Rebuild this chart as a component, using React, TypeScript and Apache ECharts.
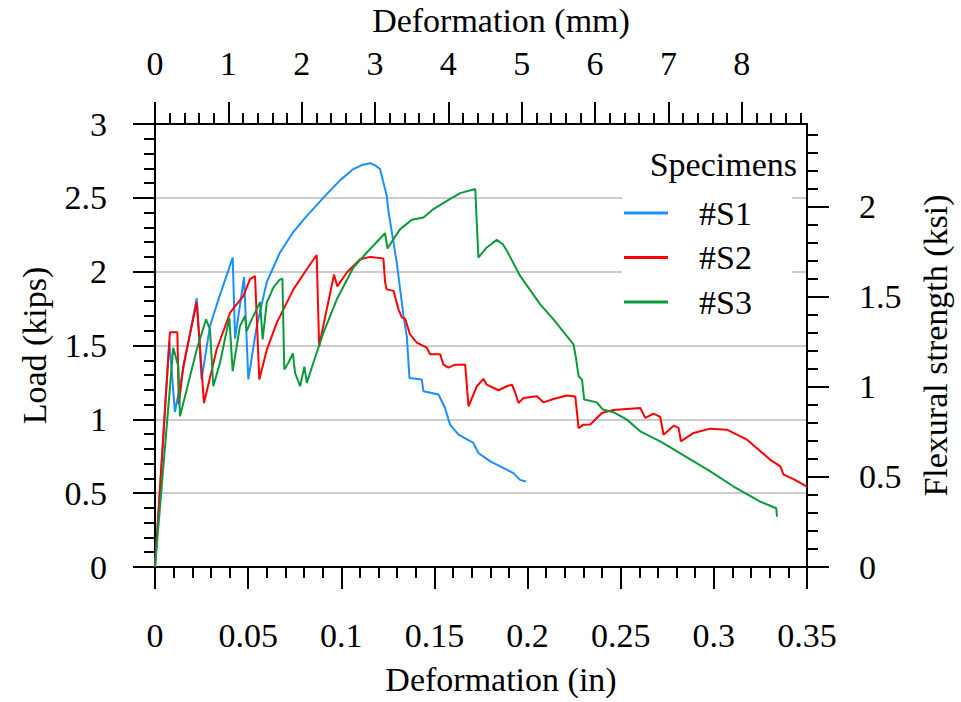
import React, { useEffect, useRef } from 'react';
import * as echarts from 'echarts';

// ---- data (deformation in inches, load in kips) ----
const S1_X = [0, 0.0077, 0.0107, 0.0224, 0.025, 0.0295, 0.034, 0.0417, 0.043, 0.0478, 0.0501, 0.0546, 0.06, 0.0671, 0.0743, 0.0815, 0.0922, 0.0994, 0.1065, 0.111, 0.1155, 0.1182, 0.1208, 0.1244, 0.1253, 0.1298, 0.1334, 0.1352, 0.1366, 0.1432, 0.1441, 0.1522, 0.1557, 0.1584, 0.1629, 0.1709, 0.1736, 0.18, 0.1924, 0.196, 0.1991];
const S1_Y = [0, 1.53, 1.05, 1.82, 1.27, 1.63, 1.81, 2.095, 1.546, 1.964, 1.27, 1.63, 1.93, 2.13, 2.27, 2.378, 2.525, 2.62, 2.695, 2.722, 2.734, 2.72, 2.695, 2.514, 2.41, 2.06, 1.7, 1.56, 1.28, 1.27, 1.19, 1.168, 1.077, 0.964, 0.896, 0.84, 0.772, 0.715, 0.636, 0.59, 0.579];

const S2_X = [0, 0.008, 0.012, 0.0128, 0.0152, 0.0224, 0.0263, 0.0331, 0.0403, 0.0439, 0.0474, 0.051, 0.0537, 0.056, 0.06, 0.0654, 0.0743, 0.0815, 0.0868, 0.0881, 0.0922, 0.0961, 0.0979, 0.103, 0.1101, 0.1155, 0.1226, 0.1235, 0.1244, 0.128, 0.1307, 0.1325, 0.1343, 0.1369, 0.1405, 0.1459, 0.1477, 0.1531, 0.1548, 0.1575, 0.1611, 0.1665, 0.1683, 0.1728, 0.1763, 0.1781, 0.1844, 0.1889, 0.1916, 0.1933, 0.1951, 0.1978, 0.205, 0.2085, 0.2139, 0.2211, 0.2256, 0.2274, 0.23, 0.2336, 0.2399, 0.2461, 0.2605, 0.2632, 0.2676, 0.2712, 0.273, 0.2784, 0.2811, 0.2823, 0.2891, 0.2981, 0.307, 0.3178, 0.3303, 0.3357, 0.3374, 0.3428, 0.35];
const S2_Y = [0, 1.59, 1.59, 1.1, 1.36, 1.795, 1.11, 1.473, 1.722, 1.78, 1.835, 1.95, 1.97, 1.27, 1.47, 1.655, 1.88, 2.016, 2.113, 1.495, 1.745, 1.98, 1.9, 1.994, 2.084, 2.1, 2.09, 1.93, 1.88, 1.87, 1.745, 1.69, 1.68, 1.575, 1.52, 1.485, 1.44, 1.44, 1.37, 1.35, 1.37, 1.37, 1.088, 1.224, 1.274, 1.235, 1.197, 1.224, 1.235, 1.183, 1.111, 1.145, 1.156, 1.115, 1.138, 1.161, 1.155, 0.94, 0.964, 0.965, 1.043, 1.064, 1.077, 1.01, 1.039, 1.016, 0.896, 0.957, 0.942, 0.851, 0.908, 0.937, 0.93, 0.862, 0.726, 0.681, 0.625, 0.595, 0.545];

const S3_X = [0, 0.0098, 0.0125, 0.0134, 0.0224, 0.0274, 0.0295, 0.0313, 0.0349, 0.0399, 0.0417, 0.0456, 0.0483, 0.0492, 0.0519, 0.0564, 0.0578, 0.06, 0.0635, 0.0668, 0.0684, 0.0694, 0.0716, 0.074, 0.0752, 0.0779, 0.0802, 0.0815, 0.085, 0.0904, 0.0976, 0.1065, 0.1137, 0.1235, 0.1248, 0.128, 0.1316, 0.1379, 0.1441, 0.1495, 0.1567, 0.1638, 0.1719, 0.1736, 0.1781, 0.1835, 0.1867, 0.1889, 0.196, 0.2068, 0.2139, 0.2211, 0.2247, 0.2261, 0.2274, 0.2292, 0.2304, 0.2372, 0.2404, 0.2461, 0.2533, 0.2605, 0.2712, 0.2802, 0.2981, 0.3106, 0.3249, 0.3335, 0.3339];
const S3_Y = [0, 1.485, 1.36, 1.02, 1.473, 1.677, 1.61, 1.224, 1.383, 1.688, 1.326, 1.631, 1.7, 1.597, 1.677, 1.794, 1.541, 1.79, 1.892, 1.944, 1.953, 1.337, 1.383, 1.446, 1.315, 1.224, 1.356, 1.247, 1.383, 1.586, 1.813, 2.028, 2.13, 2.26, 2.157, 2.22, 2.288, 2.351, 2.367, 2.424, 2.48, 2.532, 2.56, 2.096, 2.164, 2.215, 2.186, 2.141, 1.971, 1.779, 1.677, 1.563, 1.507, 1.405, 1.292, 1.27, 1.134, 1.115, 1.066, 1.048, 0.998, 0.919, 0.851, 0.783, 0.647, 0.545, 0.443, 0.398, 0.341];

const SERIES_NAMES = ['#S1', '#S2', '#S3'];
const SERIES_COLORS = ['#1a8fff', '#ff0000', '#0b9a3a'];

// ---- axes ----
const IN_MIN = 0;
const IN_MAX = 0.35;
const IN_INTERVAL = 0.05;
const KIPS_MIN = 0;
const KIPS_MAX = 3;
const KIPS_INTERVAL = 0.5;
const MM_PER_IN = 25.4;
const KSI_PER_KIP = 0.82;
const MM_LABELS = [0, 1, 2, 3, 4, 5, 6, 7, 8];
const KSI_LABELS = [0, 0.5, 1, 1.5, 2];

const FONT = 'Liberation Serif';
const FS = 34;

function pairs(xs: number[], ys: number[]) {
  return xs.map((x, i) => [x, ys[i]]);
}

function steps(max: number, step: number) {
  const out: number[] = [];
  for (let i = 0; i * step <= max + 1e-9; i++) out.push(Math.round(i * step * 1000) / 1000);
  return out;
}

export default function App() {
  const ref = useRef<HTMLDivElement>(null);

  useEffect(() => {
    if (!ref.current) return;
    const chart = echarts.init(ref.current, null, { renderer: 'svg' });
    const mmMax = IN_MAX * MM_PER_IN;
    const ksiMax = KIPS_MAX * KSI_PER_KIP;
    const black = { color: '#000', width: 2 };
    const labelStyle = { fontFamily: FONT, fontSize: FS, color: '#000' };
    const nameStyle = { fontFamily: FONT, fontSize: FS, color: '#000' };

    const data = [pairs(S1_X, S1_Y), pairs(S2_X, S2_Y), pairs(S3_X, S3_Y)];

    chart.setOption({
      animation: false,
      backgroundColor: '#fff',
      textStyle: { fontFamily: FONT },
      grid: { left: 155, right: 154, top: 124, bottom: 135, outerBoundsMode: 'none', containLabel: false },
      legend: {
        orient: 'vertical',
        left: 622,
        top: 140,
        padding: [52, 40, 2, 2],
        itemGap: 2.5,
        itemWidth: 44,
        itemHeight: 3,
        icon: 'rect',
        selectedMode: false,
        backgroundColor: '#fff',
        textStyle: { fontFamily: FONT, fontSize: FS, color: '#000', lineHeight: FS, padding: [8, 0, 0, 26] },
        data: SERIES_NAMES,
      },
      graphic: [
        {
          type: 'text',
          z: 100,
          x: 797,
          y: 164.5,
          style: { text: 'Specimens', fontFamily: FONT, fontSize: FS, fill: '#000', textAlign: 'right', textVerticalAlign: 'middle' },
        },
      ],
      xAxis: [
        {
          type: 'value',
          position: 'bottom',
          min: IN_MIN,
          max: IN_MAX,
          interval: IN_INTERVAL,
          axisLine: { show: true, onZero: false, lineStyle: black },
          axisTick: { show: true, inside: false, length: 22, lineStyle: black },
          minorTick: { show: true, splitNumber: 5, length: 11, lineStyle: black },
          axisLabel: { ...labelStyle, margin: 51 },
          splitLine: { show: false },
          name: 'Deformation (in)',
          nameLocation: 'middle',
          nameGap: 95,
          nameTextStyle: { ...nameStyle, padding: [0, 0, 0, 40] },
        },
        {
          type: 'value',
          position: 'top',
          min: 0,
          max: mmMax,
          axisLine: { show: true, onZero: false, lineStyle: black },
          axisTick: { show: true, inside: false, length: 22, lineStyle: black, customValues: MM_LABELS },
          axisLabel: { ...labelStyle, margin: 44, customValues: MM_LABELS },
          splitLine: { show: false },
          name: 'Deformation (mm)',
          nameLocation: 'middle',
          nameGap: 87,
          nameTextStyle: { ...nameStyle, padding: [0, 0, 0, 40] },
        },
        {
          type: 'value',
          position: 'top',
          min: 0,
          max: mmMax,
          axisLine: { show: false, onZero: false },
          axisTick: { show: true, inside: false, length: 11, lineStyle: black, customValues: steps(mmMax, 0.2) },
          axisLabel: { show: false },
          splitLine: { show: false },
        },
      ],
      yAxis: [
        {
          type: 'value',
          position: 'left',
          min: KIPS_MIN,
          max: KIPS_MAX,
          interval: KIPS_INTERVAL,
          axisLine: { show: true, onZero: false, lineStyle: black },
          axisTick: { show: true, inside: false, length: 22, lineStyle: black },
          minorTick: { show: true, splitNumber: 5, length: 11, lineStyle: black },
          axisLabel: { ...labelStyle, margin: 48 },
          splitLine: { show: true, lineStyle: { color: '#cccccc', width: 2 } },
          name: 'Load (kips)',
          nameLocation: 'middle',
          nameGap: 104,
          nameTextStyle: nameStyle,
        },
        {
          type: 'value',
          position: 'right',
          min: 0,
          max: ksiMax,
          axisLine: { show: true, onZero: false, lineStyle: black },
          axisTick: { show: true, inside: false, length: 22, lineStyle: black, customValues: KSI_LABELS },
          axisLabel: { ...labelStyle, margin: 52, customValues: KSI_LABELS },
          splitLine: { show: false },
          name: 'Flexural strength (ksi)',
          nameLocation: 'middle',
          nameGap: 111,
          nameTextStyle: nameStyle,
        },
        {
          type: 'value',
          position: 'right',
          min: 0,
          max: ksiMax,
          axisLine: { show: false, onZero: false },
          axisTick: { show: true, inside: false, length: 11, lineStyle: black, customValues: steps(ksiMax, 0.1) },
          axisLabel: { show: false },
          splitLine: { show: false },
        },
      ],
      series: data.map((d, i) => ({
        name: SERIES_NAMES[i],
        type: 'line',
        xAxisIndex: 0,
        yAxisIndex: 0,
        data: d,
        showSymbol: false,
        symbol: 'none',
        color: SERIES_COLORS[i],
        lineStyle: { color: SERIES_COLORS[i], width: 2 },
        emphasis: { disabled: true },
      })),
    });
    return () => chart.dispose();
  }, []);

  return <div ref={ref} style={{ position: 'fixed', left: 0, top: 0, width: 961, height: 702, background: '#fff' }} />;
}
